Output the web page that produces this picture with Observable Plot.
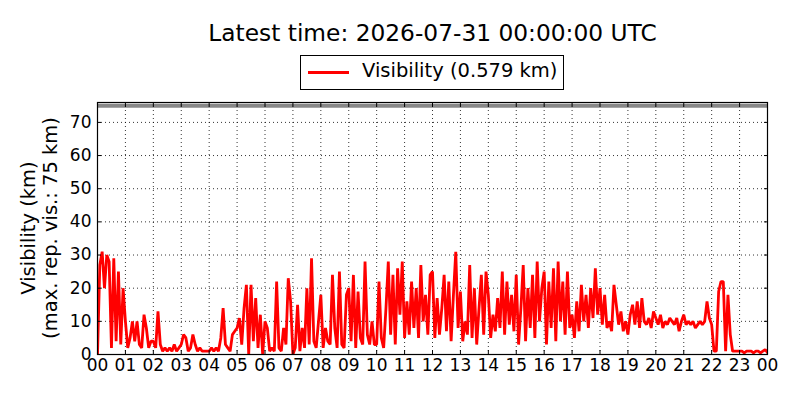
<!DOCTYPE html>
<html>
<head>
<meta charset="utf-8">
<script src="https://cdn.jsdelivr.net/npm/d3@7"></script>
<script src="https://cdn.jsdelivr.net/npm/@observablehq/plot@0.6"></script>
<style>
  html, body { margin: 0; padding: 0; background: #fff; }
  #wrap { position: relative; width: 800px; height: 400px; font-family: "DejaVu Sans", sans-serif; }
  #title { position: absolute; left: 0; width: 865px; top: 19px; text-align: center; font-size: 23.3px; line-height: 28px; color: #000; }
  #legend { position: absolute; left: 300px; top: 55px; width: 262px; height: 33px; border: 1px solid #000; background: #fff; box-sizing: content-box; }
  #legend .sw { position: absolute; left: 7px; top: 14.5px; width: 41px; height: 3px; background: #ff0000; }
  #legend .lb { position: absolute; left: 61px; top: 3px; font-size: 19.5px; line-height: 24px; color: #000; white-space: nowrap; }
  #chart { position: absolute; left: 0; top: 0; }
</style>
</head>
<body>
<div id="wrap">
  <div id="chart"></div>
  <div id="title">Latest time: 2026-07-31 00:00:00 UTC</div>
  <div id="legend"><div class="sw"></div><div class="lb">Visibility (0.579 km)</div></div>
</div>
<script>
// Visibility (km), 5-minute samples, one array per hour (UTC)
const h00 = [0, 27, 31, 20, 30, 28, 2, 29, 4, 25, 3, 20];
const h01 = [10, 2, 5, 10, 4, 10, 3, 2, 12, 8, 2, 4];
const h02 = [4, 2, 13, 3, 1, 2, 1, 2, 1, 3, 1, 2];
const h03 = [3, 6, 5, 1, 2, 6, 3, 1, 2, 1, 1, 1];
const h04 = [1, 2, 1, 2, 1, 5, 14, 3, 2, 1, 6, 7];
const h05 = [8, 11, 3, 14, 21, 0, 21, 4, 17, 2, 12, 0];
const h06 = [10, 8, 1, 2, 1, 22, 2, 1, 8, 3, 23, 16];
const h07 = [0, 2, 15, 1, 8, 2, 20, 3, 29, 4, 2, 10];
const h08 = [18, 2, 8, 4, 3, 24, 8, 2, 25, 3, 2, 18];
const h09 = [20, 4, 24, 2, 19, 5, 3, 28, 6, 3, 10, 3];
const h10 = [3, 22, 5, 2, 14, 28, 6, 24, 3, 26, 12, 28];
const h11 = [5, 16, 6, 22, 8, 20, 5, 27, 10, 18, 6, 24];
const h12 = [25, 5, 17, 6, 14, 24, 7, 22, 4, 18, 31, 8];
const h13 = [19, 4, 10, 6, 27, 5, 20, 3, 14, 24, 6, 25];
const h14 = [18, 5, 12, 7, 17, 8, 25, 6, 22, 9, 18, 7];
const h15 = [24, 3, 14, 27, 4, 20, 8, 24, 5, 28, 10, 20];
const h16 = [25, 3, 22, 8, 26, 4, 28, 10, 22, 6, 25, 8];
const h17 = [12, 5, 16, 7, 21, 10, 18, 8, 20, 11, 26, 12];
const h18 = [20, 9, 18, 8, 10, 7, 21, 15, 9, 13, 7, 10];
const h19 = [6, 12, 15, 9, 16, 8, 17, 10, 9, 11, 8, 13];
const h20 = [11, 9, 12, 8, 10, 9, 11, 10, 9, 11, 7, 10];
const h21 = [12, 9, 10, 9, 10, 8, 9, 10, 9, 10, 16, 11];
const h22 = [9, 1, 1, 19, 22, 22, 1, 18, 6, 1, 1, 1];
const h23 = [1, 1, 0.5, 1, 1, 1, 0.5, 1, 1, 0.5, 1, 1.5];
const lastValue = 0.579;
const maxReportedVis = 75;

const xTicks = d3.range(0, 25, 1);
const xTickLabels = xTicks.map(h => String(h % 24).padStart(2, "0"));
const yTicks = [0, 10, 20, 30, 40, 50, 60, 70];

const hours = [h00,h01,h02,h03,h04,h05,h06,h07,h08,h09,h10,h11,h12,h13,h14,h15,h16,h17,h18,h19,h20,h21,h22,h23];
const series = hours.flat().concat([lastValue]);
const data = series.map((v, i) => ({t: i * 5 / 60, vis: v}));

const font = "DejaVu Sans, sans-serif";
const chart = Plot.plot({
  width: 800,
  height: 400,
  marginLeft: 97,
  marginRight: 33,
  marginTop: 102,
  marginBottom: 46,
  style: {fontFamily: font, fontSize: "16.5px", color: "#000", background: "#fff"},
  x: {domain: [0, 24], ticks: xTicks},
  y: {domain: [0, 76], ticks: yTicks},
  marks: [
    Plot.gridX(xTicks, {stroke: "#000", strokeOpacity: 1, strokeWidth: 0.8, strokeDasharray: "1,3"}),
    Plot.gridY(yTicks, {stroke: "#000", strokeOpacity: 1, strokeWidth: 0.8, strokeDasharray: "1,3"}),
    Plot.ruleY([maxReportedVis], {stroke: "#888", strokeWidth: 4}),
    Plot.line(data, {x: "t", y: "vis", stroke: "#ff0000", strokeWidth: 2.8, strokeLinejoin: "miter", clip: true}),
    Plot.axisX(xTicks, {anchor: "bottom", tickSize: -4, tickPadding: 8, tickFormat: (d, i) => xTickLabels[i], label: null, fontSize: 17}),
    Plot.axisX(xTicks, {anchor: "top", tickSize: -4, tickFormat: () => "", label: null}),
    Plot.axisY(yTicks, {anchor: "left", tickSize: -4, tickPadding: 10, label: null, fontSize: 17}),
    Plot.axisY(yTicks, {anchor: "right", tickSize: -4, tickFormat: () => "", label: null}),
    Plot.frame({stroke: "#000", strokeWidth: 1.2})
  ]
});
document.getElementById("chart").appendChild(chart);

// two-line rotated y-axis label
const svg = d3.select(chart);
const cy = (102 + 354) / 2;
svg.append("text").attr("transform", `translate(35,${cy}) rotate(-90)`)
  .attr("text-anchor", "middle").attr("font-size", 19.5).attr("font-family", font)
  .attr("fill", "#000").text("Visibility (km)");
svg.append("text").attr("transform", `translate(57,${cy}) rotate(-90)`)
  .attr("text-anchor", "middle").attr("font-size", 19.5).attr("font-family", font)
  .attr("fill", "#000").text("(max. rep. vis.: 75 km)");
</script>
</body>
</html>
